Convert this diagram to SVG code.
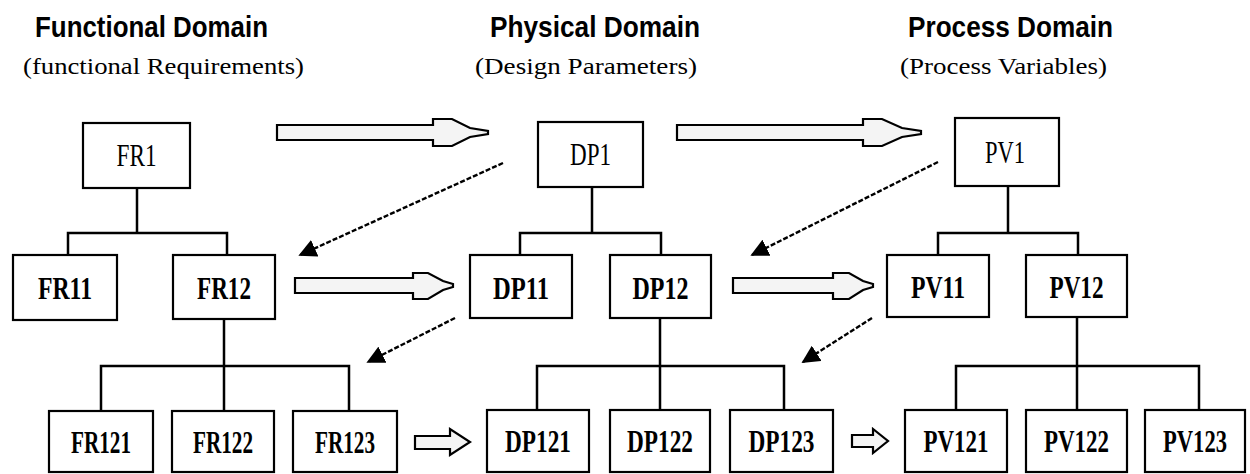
<svg xmlns="http://www.w3.org/2000/svg" width="1250" height="474" viewBox="0 0 1250 474">
  <defs>
    <style>
      .box { fill: #ffffff; stroke: #000000; stroke-width: 2.2; }
      .lbl { font-family: "Liberation Serif", "Times New Roman", serif; font-size: 32px; fill: #000000; text-anchor: middle; }
      .lblb { font-family: "Liberation Serif", "Times New Roman", serif; font-size: 32px; font-weight: bold; fill: #000000; text-anchor: middle; }
      .title { font-family: "Liberation Sans", Arial, sans-serif; font-weight: bold; font-size: 29px; fill: #000000; }
      .sub { font-family: "Liberation Serif", "Times New Roman", serif; font-size: 24px; fill: #000000; }
      .tree { fill: none; stroke: #000000; stroke-width: 2.5; }
      .hollow { fill: #f4f4f4; stroke: #000000; stroke-width: 2.2; stroke-linejoin: miter; }
      .dash { fill: none; stroke: #000000; stroke-width: 2.4; stroke-dasharray: 5 2; }
    </style>
    <marker id="tri" viewBox="0 0 10 10" refX="9" refY="5" markerWidth="18" markerHeight="18" markerUnits="userSpaceOnUse" orient="auto">
      <path d="M0,0 L10,5 L0,10 Z" fill="#000000"/>
    </marker>
  </defs>

  <rect width="1250" height="474" fill="#ffffff"/>

  <!-- domain headings -->
  <g id="headings">
    <text class="title" x="35" y="37" textLength="233" lengthAdjust="spacingAndGlyphs">Functional Domain</text>
    <text class="sub" x="23" y="74" textLength="281" lengthAdjust="spacingAndGlyphs">(functional Requirements)</text>
    <text class="title" x="490" y="37" textLength="210" lengthAdjust="spacingAndGlyphs">Physical Domain</text>
    <text class="sub" x="475" y="74" textLength="222" lengthAdjust="spacingAndGlyphs">(Design Parameters)</text>
    <text class="title" x="908" y="37" textLength="205" lengthAdjust="spacingAndGlyphs">Process Domain</text>
    <text class="sub" x="900" y="74" textLength="207" lengthAdjust="spacingAndGlyphs">(Process Variables)</text>
  </g>

  <!-- connectors: hierarchy lines, mapping arrows, zigzag arrows -->
  <g id="connectors">
    <path class="tree" d="M137,188 V233 M68,255 V233 H227 V255"/>
    <path class="tree" d="M224,320 V366 M101,411 V366 H349 V411 M224,366 V411"/>
    <path class="tree" d="M592,187 V233 M520,255 V233 H661 V255"/>
    <path class="tree" d="M660,318 V366 M537,411 V366 H784 V411 M660,366 V411"/>
    <path class="tree" d="M1008,186 V233 M938,255 V233 H1078 V255"/>
    <path class="tree" d="M1077,318 V366 M956,411 V366 H1199 V411 M1077,366 V411"/>

    <path class="hollow" d="M277,125 H433 V119 H452 L470,128 L488,131 V134 L470,137 L452,146 H433 V140 H277 Z"/>
    <path class="hollow" d="M677,125 H863 V119 H882 L902,128 L921,131 V134 L902,137 L882,146 H863 V140 H677 Z"/>
    <path class="hollow" d="M295,278 H413 V273 H428 L443,281 L453,284 V287 L443,290 L428,299 H413 V293 H295 Z"/>
    <path class="hollow" d="M733,278 H833 V273 H849 L863,281 L873,284 V287 L863,290 L849,299 H833 V293 H733 Z"/>
    <path class="hollow" d="M415,436 H450 V429 L470,442 L450,455 V449 H415 Z"/>
    <path class="hollow" d="M852,435 H873 V429 L888,441 L873,453 V447 H852 Z"/>

    <line class="dash" x1="503" y1="163" x2="300" y2="255" marker-end="url(#tri)"/>
    <line class="dash" x1="938" y1="162" x2="752" y2="255" marker-end="url(#tri)"/>
    <line class="dash" x1="455" y1="318" x2="368" y2="362" marker-end="url(#tri)"/>
    <line class="dash" x1="872" y1="318" x2="803" y2="362" marker-end="url(#tri)"/>
  </g>

  <!-- functional requirements -->
  <g id="FR1"><rect class="box" x="83" y="123" width="107" height="65"/><text class="lbl" x="136.5" y="166" textLength="40" lengthAdjust="spacingAndGlyphs">FR1</text></g>
  <g id="FR11"><rect class="box" x="13" y="255" width="104" height="65"/><text class="lblb" x="65" y="299" textLength="54" lengthAdjust="spacingAndGlyphs">FR11</text></g>
  <g id="FR12"><rect class="box" x="173" y="255" width="102" height="64"/><text class="lblb" x="224" y="299" textLength="54" lengthAdjust="spacingAndGlyphs">FR12</text></g>
  <g id="FR121"><rect class="box" x="49" y="411" width="104" height="61"/><text class="lblb" x="101" y="453" textLength="60" lengthAdjust="spacingAndGlyphs">FR121</text></g>
  <g id="FR122"><rect class="box" x="172" y="411" width="102" height="61"/><text class="lblb" x="223" y="453" textLength="60" lengthAdjust="spacingAndGlyphs">FR122</text></g>
  <g id="FR123"><rect class="box" x="293" y="411" width="104" height="61"/><text class="lblb" x="345" y="453" textLength="60" lengthAdjust="spacingAndGlyphs">FR123</text></g>

  <!-- design parameters -->
  <g id="DP1"><rect class="box" x="538" y="122" width="105" height="65"/><text class="lbl" x="590.5" y="165" textLength="41" lengthAdjust="spacingAndGlyphs">DP1</text></g>
  <g id="DP11"><rect class="box" x="470" y="255" width="102" height="63"/><text class="lblb" x="521" y="299" textLength="56" lengthAdjust="spacingAndGlyphs">DP11</text></g>
  <g id="DP12"><rect class="box" x="610" y="255" width="101" height="63"/><text class="lblb" x="660.5" y="299" textLength="56" lengthAdjust="spacingAndGlyphs">DP12</text></g>
  <g id="DP121"><rect class="box" x="487" y="410" width="102" height="62"/><text class="lblb" x="538" y="452" textLength="66" lengthAdjust="spacingAndGlyphs">DP121</text></g>
  <g id="DP122"><rect class="box" x="610" y="410" width="100" height="62"/><text class="lblb" x="660" y="452" textLength="66" lengthAdjust="spacingAndGlyphs">DP122</text></g>
  <g id="DP123"><rect class="box" x="730" y="410" width="103" height="62"/><text class="lblb" x="781.5" y="452" textLength="66" lengthAdjust="spacingAndGlyphs">DP123</text></g>

  <!-- process variables -->
  <g id="PV1"><rect class="box" x="955" y="118" width="104" height="68"/><text class="lbl" x="1005" y="163" textLength="40" lengthAdjust="spacingAndGlyphs">PV1</text></g>
  <g id="PV11"><rect class="box" x="887" y="255" width="102" height="62"/><text class="lblb" x="938" y="298" textLength="54" lengthAdjust="spacingAndGlyphs">PV11</text></g>
  <g id="PV12"><rect class="box" x="1026" y="255" width="101" height="62"/><text class="lblb" x="1076.5" y="298" textLength="54" lengthAdjust="spacingAndGlyphs">PV12</text></g>
  <g id="PV121"><rect class="box" x="905" y="410" width="102" height="62"/><text class="lblb" x="956" y="452" textLength="65" lengthAdjust="spacingAndGlyphs">PV121</text></g>
  <g id="PV122"><rect class="box" x="1026" y="410" width="101" height="62"/><text class="lblb" x="1076.5" y="452" textLength="65" lengthAdjust="spacingAndGlyphs">PV122</text></g>
  <g id="PV123"><rect class="box" x="1145" y="410" width="100" height="62"/><text class="lblb" x="1195" y="452" textLength="64" lengthAdjust="spacingAndGlyphs">PV123</text></g>
</svg>
